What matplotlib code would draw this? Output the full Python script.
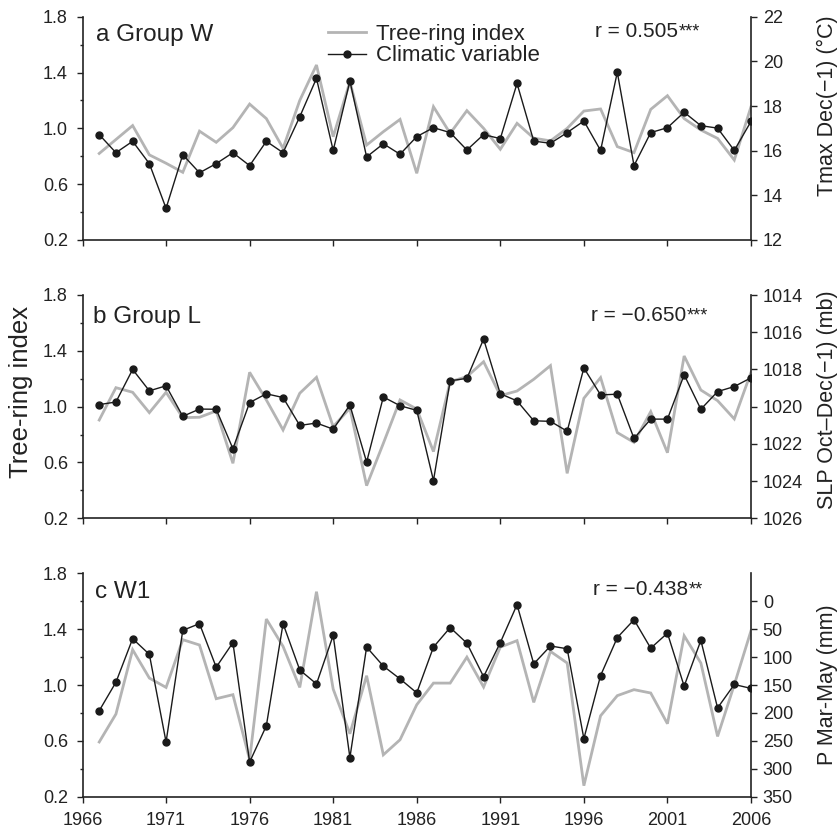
import matplotlib
matplotlib.use('Agg')
import matplotlib.pyplot as plt
from matplotlib.ticker import FixedLocator, FixedFormatter
from matplotlib.lines import Line2D

plt.rcParams['font.family'] = ['Liberation Sans', 'DejaVu Sans']

years = list(range(1967, 2007))

# Panel a: Group W
tree_a = [0.82, 0.92, 1.02, 0.81, 0.75, 0.685, 0.98, 0.90, 1.005, 1.174, 1.07, 0.857, 1.20,
          1.454, 0.94, 1.334, 0.88, 0.976, 1.064, 0.678, 1.155, 0.964, 1.127, 1.0, 0.85, 1.036, 0.93, 0.91,
          1.0, 1.124, 1.139, 0.869, 0.826, 1.136, 1.234, 1.07, 0.988, 0.928, 0.773, 1.155]
tmax_a = [16.72, 15.91, 16.42, 15.42, 13.42, 15.82, 15.01, 15.42, 15.91, 15.33, 16.42, 15.91, 17.52,
          19.24, 16.01, 19.12, 15.72, 16.31, 15.84, 16.63, 17.03, 16.81, 16.03, 16.72, 16.54, 19.01, 16.43, 16.33,
          16.81, 17.33, 16.01, 19.51, 15.33, 16.81, 17.03, 17.72, 17.12, 17.01, 16.01, 17.31]

# Panel b: Group L
tree_b = [0.904, 1.136, 1.103, 0.957, 1.103, 0.921, 0.924, 0.969, 0.594, 1.246, 1.048, 0.833, 1.096,
          1.21, 0.857, 0.988, 0.434, 0.737, 1.048, 0.983, 0.678, 1.179, 1.215, 1.322, 1.079, 1.112, 1.196, 1.294,
          0.522, 1.06, 1.208, 0.814, 0.744, 0.964, 0.67, 1.363, 1.119, 1.043, 0.912, 1.246]
slp_b = [1019.89, 1019.75, 1018.0, 1019.15, 1018.88, 1020.52, 1020.13, 1020.14, 1022.26, 1019.78, 1019.31, 1019.51, 1021.01,
         1020.88, 1021.21, 1019.91, 1022.98, 1019.48, 1019.95, 1020.2, 1023.97, 1018.61, 1018.48, 1016.37, 1019.31,
         1019.69, 1020.76, 1020.79,
         1021.32, 1017.92, 1019.37, 1019.33, 1021.71, 1020.67, 1020.67, 1018.29, 1020.14, 1019.19, 1018.92, 1018.45]

# Panel c: W1
tree_c = [0.592, 0.792, 1.253, 1.05, 0.983, 1.325, 1.287, 0.902, 0.931, 0.465, 1.473, 1.277, 0.983,
          1.669, 0.971, 0.651, 1.067, 0.5, 0.608, 0.859, 1.014, 1.014, 1.2, 0.986, 1.272, 1.318, 0.876, 1.241,
          1.158, 0.279, 0.78, 0.924, 0.967, 0.943, 0.723, 1.353, 1.158, 0.632, 1.002, 1.389]
prec_c = [196, 145, 67, 95, 252, 52, 40, 118, 74, 288, 223, 40, 123,
          148, 61, 280, 82, 116, 139, 164, 82, 47, 75, 135, 74, 6, 112, 80,
          85, 246, 133, 65, 33, 84, 57, 152, 70, 191, 149, 156]

left_ticks = [0.2, 0.6, 1.0, 1.4, 1.8]
left_labels = ['0.2', '0.6', '1.0', '1.4', '1.8']
left_minor = [0.4, 0.8, 1.2, 1.6]
year_ticks = list(range(1966, 2007, 5))
year_labels = [str(y) for y in year_ticks]

titles = ['a Group W', 'b Group L', 'c W1']
r_texts = ['r = 0.505', 'r = \u22120.650', 'r = \u22120.438']
r_stars = ['***', '***', '**']
right_labels = ['Tmax Dec(\u22121) (\u00b0C)', 'SLP Oct\u2013Dec(\u22121) (mb)', 'P Mar-May (mm)']
right_ticks = [[12, 14, 16, 18, 20, 22],
               [1014, 1016, 1018, 1020, 1022, 1024, 1026],
               [0, 50, 100, 150, 200, 250, 300, 350]]
right_lims = [(12, 22), (1026, 1014), (350, -50)]
trees = [tree_a, tree_b, tree_c]
clims = [tmax_a, slp_b, prec_c]

GRAY = '#b4b4b4'
BLACK = '#1a1a1a'
SPINE = '#222222'

fig = plt.figure(figsize=(8.4, 8.36), dpi=100)
L = 82.5 / 840
W = (751 - 82.5) / 840
H = 223.3 / 836
bottoms = [1 - 240 / 836, 1 - 518.3 / 836, 1 - 796.7 / 836]

title_pos = [(0.020, 0.918), (0.016, 0.900), (0.018, 0.915)]
r_pos = [(0.8908, 0.933), (0.9038, 0.907), (0.9058, 0.928)]
rl_pos = [(1.115, 0.600), (1.115, 0.530), (1.114, 0.500)]

for i in range(3):
    ax = fig.add_axes([L, bottoms[i], W, H])
    ax2 = ax.twinx()
    ax.plot(years, trees[i], color=GRAY, lw=2.0, solid_joinstyle='miter', zorder=2)
    ax2.plot(years, clims[i], color=BLACK, lw=1.0, marker='o', ms=5.0,
             markerfacecolor=BLACK, markeredgecolor=BLACK, zorder=3)

    ax.set_xlim(1966, 2006)
    ax.set_ylim(0.2, 1.8)
    ax.yaxis.set_major_locator(FixedLocator(left_ticks))
    ax.yaxis.set_major_formatter(FixedFormatter(left_labels))
    ax.yaxis.set_minor_locator(FixedLocator(left_minor))
    ax.xaxis.set_major_locator(FixedLocator(year_ticks))
    ax.xaxis.set_major_formatter(FixedFormatter(year_labels))
    ax2.set_ylim(*right_lims[i])
    ax2.yaxis.set_major_locator(FixedLocator(right_ticks[i]))
    ax2.yaxis.set_major_formatter(FixedFormatter([str(t) for t in right_ticks[i]]))

    for s in ['top', 'right']:
        ax.spines[s].set_visible(False)
    for s in ['top', 'left', 'bottom']:
        ax2.spines[s].set_visible(False)
    for s in ['left', 'bottom']:
        ax.spines[s].set_linewidth(1.2)
        ax.spines[s].set_color(SPINE)
    ax2.spines['right'].set_linewidth(1.2)
    ax2.spines['right'].set_color(SPINE)

    ax.tick_params(axis='y', which='major', direction='out', length=4.5, width=1.0,
                   labelsize=13, pad=6, color=SPINE, labelcolor='#222222')
    ax.tick_params(axis='y', which='minor', direction='out', length=2.5, width=1.0, color=SPINE)
    ax.tick_params(axis='x', which='major', direction='out', length=4, width=1.0,
                   labelsize=13, pad=7, color=SPINE, labelcolor='#222222',
                   labelbottom=(i == 2))
    ax2.tick_params(axis='y', which='major', direction='out', length=4.5, width=1.0,
                    labelsize=13, pad=4, color=SPINE, labelcolor='#222222')

    ax.text(title_pos[i][0], title_pos[i][1], titles[i], transform=ax.transAxes,
            ha='left', va='center', fontsize=17.5, color='#222222')
    t = ax2.text(r_pos[i][0], r_pos[i][1], r_texts[i], transform=ax.transAxes,
                 ha='right', va='center', fontsize=15, color='#222222')
    ax2.annotate(r_stars[i], xy=(1, 1), xycoords=t, xytext=(0.3, -1.0),
                 textcoords='offset points', ha='left', va='top', fontsize=13, color='#222222')
    ax2.text(rl_pos[i][0], rl_pos[i][1], right_labels[i], transform=ax.transAxes,
             rotation=90, ha='center', va='center', fontsize=15.5, color='#222222')

    if i == 1:
        ax.text(-0.092, 0.566, 'Tree-ring index', transform=ax.transAxes, rotation=90,
                ha='center', va='center', fontsize=18.5, color='#222222')

    if i == 0:
        handles = [Line2D([], [], color=GRAY, lw=2.0),
                   Line2D([], [], color=BLACK, lw=1.0, marker='o', ms=5.0)]
        leg = ax2.legend(handles, ['Tree-ring index', 'Climatic variable'],
                         loc='upper left', bbox_to_anchor=(0.367, 0.968), frameon=False,
                         fontsize=16, handlelength=1.7, handletextpad=0.45,
                         labelspacing=0.02, borderpad=0, borderaxespad=0)
        for tx in leg.get_texts():
            tx.set_color('#222222')

fig.savefig('out.png', dpi=100)
